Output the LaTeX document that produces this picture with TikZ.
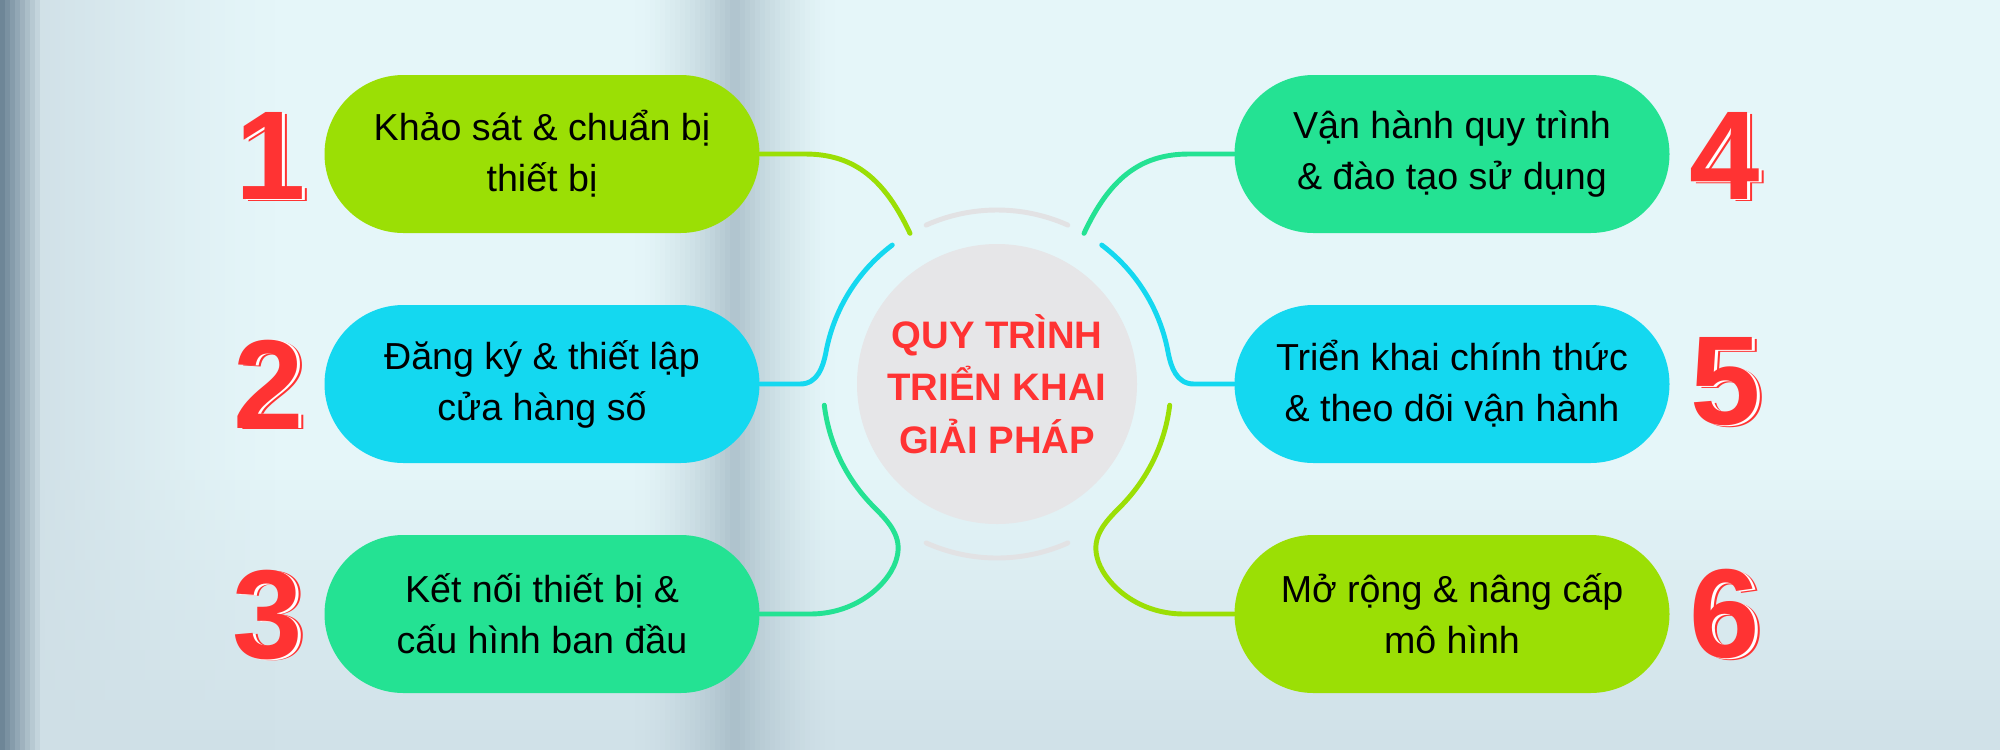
\documentclass[tikz,border=0pt]{standalone}
\usepackage{fontspec}
\setmainfont{Liberation Sans}
\usetikzlibrary{shapes.misc,calc}

\definecolor{bgbase}{HTML}{E5F6F9}
\definecolor{bghaze}{HTML}{D0E1E8}
\definecolor{bgdark}{HTML}{6E8697}
\definecolor{bgside}{HTML}{CFDFE6}
\definecolor{bgband}{HTML}{9DB3BF}
\definecolor{limebox}{HTML}{9BDF05}
\definecolor{cyanbox}{HTML}{14D8F0}
\definecolor{greenbox}{HTML}{24E293}
\definecolor{numred}{HTML}{FF3333}
\definecolor{hubgray}{HTML}{E6E6E8}
\definecolor{ringgray}{HTML}{E2E2E4}

\begin{document}
\begin{tikzpicture}
    % Node styles
    \tikzstyle{stepbox} = [rounded rectangle, minimum width=4.35cm, minimum height=1.58cm, inner sep=0pt, align=center, font=\fontsize{10.7}{14.5}\selectfont]
    \tikzstyle{numtxt} = [inner sep=0pt, font=\bfseries\fontsize{36}{36}\selectfont, text=numred]
    \tikzstyle{link} = [line width=1.4pt, line cap=round]
    \tikzstyle{ringgap} = [line width=1.4pt, line cap=round, draw=ringgray]

    \useasboundingbox (0,0) rectangle (20,-7.5);

    % Background
    \fill[bgbase] (0,0) rectangle (20,-7.5);
    \foreach \i in {0,...,28} {
        \pgfmathsetmacro\op{\i/28}
        \fill[bghaze, opacity=\op] (0,-4.6-\i*0.1) rectangle (20,-4.7-\i*0.1);
    }
    \foreach \i in {0,...,47} {
        \pgfmathsetmacro\op{(1-\i/47)^1.3*0.9}
        \fill[bgside, opacity=\op] (0.4+\i*0.05,0) rectangle (0.45+\i*0.05,-7.5);
    }
    \foreach \i in {0,...,7} {
        \pgfmathsetmacro\mx{100-\i*12.5}
        \fill[bgdark!\mx!bgside] (\i*0.05,0) rectangle (0.05+\i*0.05,-7.5);
    }
    \foreach \i in {0,...,39} {
        \pgfmathsetmacro\op{0.75*(1-abs(\i-19.5)/20)^1.6}
        \fill[bgband, opacity=\op] (6.35+\i*0.05,0) rectangle (6.4+\i*0.05,-7.5);
    }

    % Nodes
    \node (c) at (9.97,-3.84) [circle, fill=hubgray, minimum size=2.8cm, inner sep=0pt, align=center, text=numred, font=\bfseries\fontsize{10.9}{15}\selectfont] {QUY TRÌNH\\TRIỂN KHAI\\GIẢI PHÁP};
    \node (b1) at (5.42,-1.54) [stepbox, fill=limebox] {Khảo sát \& chuẩn bị\\thiết bị};
    \node (b2) at (5.42,-3.84) [stepbox, fill=cyanbox] {Đăng ký \& thiết lập\\cửa hàng số};
    \node (b3) at (5.42,-6.14) [stepbox, fill=greenbox] {Kết nối thiết bị \&\\cấu hình ban đầu};
    \node (b4) at (14.52,-1.54) [stepbox, fill=greenbox] {Vận hành quy trình\\\& đào tạo sử dụng};
    \node (b5) at (14.52,-3.84) [stepbox, fill=cyanbox] {Triển khai chính thức\\\& theo dõi vận hành};
    \node (b6) at (14.52,-6.14) [stepbox, fill=limebox] {Mở rộng \& nâng cấp\\mô hình};

    % Numbers
    \foreach \k/\px/\py in {1/2.71/-1.56, 2/2.69/-3.84, 3/2.68/-6.15, 4/17.25/-1.56, 5/17.26/-3.82, 6/17.25/-6.14} {
        \node (s\k) at (\px+0.05,\py-0.015) [numtxt] {\k};
        \node (w\k) at (\px+0.025,\py-0.008) [numtxt, text=white] {\k};
        \node (n\k) at (\px,\py) [numtxt] {\k};
    }

    % Ring ends
    \coordinate (a1) at ($(c)+(120:1.74)$);
    \coordinate (a2) at ($(c)+(170:1.74)$);
    \coordinate (a3) at ($(c)+(225:1.74)$);
    \coordinate (a4) at ($(c)+(60:1.74)$);
    \coordinate (a5) at ($(c)+(10:1.74)$);
    \coordinate (a6) at ($(c)+(-45:1.74)$);
    \draw[ringgap] ($(c)+(66:1.74)$) arc[start angle=66, end angle=114, radius=1.74];
    \draw[ringgap] ($(c)+(246:1.74)$) arc[start angle=246, end angle=294, radius=1.74];

    % Links
    \draw[link, limebox] (b1.east) -- (8.05,-1.54) .. controls (8.55,-1.54) and (8.85,-1.80) .. (a1);
    \draw[link, cyanbox] (b2.east) -- (8.00,-3.84) .. controls (8.18,-3.84) and (8.23,-3.66) .. (a2) arc[start angle=170, end angle=127, radius=1.74];
    \draw[link, greenbox] (b3.east) -- (8.10,-6.14) .. controls (8.60,-6.14) and (8.92,-5.80) .. (8.97,-5.57) .. controls (9.02,-5.37) and (8.90,-5.23) .. (a3) arc[start angle=225, end angle=187, radius=1.74];
    \draw[link, greenbox] (b4.west) -- (11.89,-1.54) .. controls (11.39,-1.54) and (11.09,-1.80) .. (a4);
    \draw[link, cyanbox] (b5.west) -- (11.94,-3.84) .. controls (11.76,-3.84) and (11.71,-3.66) .. (a5) arc[start angle=10, end angle=53, radius=1.74];
    \draw[link, limebox] (b6.west) -- (11.84,-6.14) .. controls (11.34,-6.14) and (11.02,-5.80) .. (10.97,-5.57) .. controls (10.92,-5.37) and (11.04,-5.23) .. (a6) arc[start angle=-45, end angle=-7, radius=1.74];

\end{tikzpicture}
\end{document}
